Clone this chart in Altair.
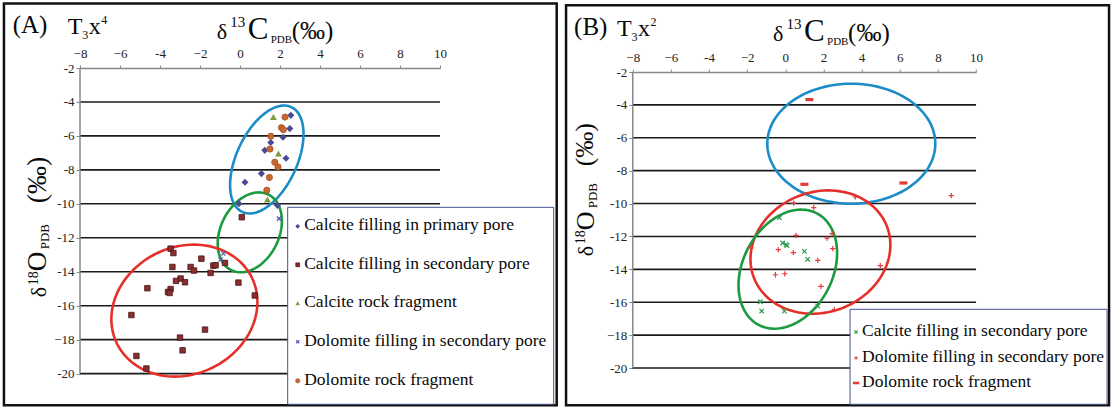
import altair as alt
import numpy as np
import pandas as pd

# ---------------- Panel A (T3x4) ----------------
a_prim_x = [2.54, 2.49, 2.15, 1.54, 1.24, 2.30, 1.07, 0.25, -0.05, 1.87]
a_prim_y = [-4.79, -5.57, -6.08, -6.39, -6.85, -7.32, -8.22, -8.73, -9.99, -10.09]
a_sec_x = [-3.47, -3.33, -1.93, -3.38, -2.47, -2.30, -1.33, -1.22, -0.75, -1.47, -2.97, -3.20, -2.75,
           -0.08, -4.63, -3.47, -3.60, -3.52, 0.74, -5.43, -1.75, -3.00, -2.87, -5.18, -4.68, 0.09]
a_sec_y = [-12.64, -12.90, -13.23, -13.72, -13.72, -13.93, -13.64, -13.62, -13.48, -14.07, -14.40, -14.54, -14.62,
           -14.64, -14.97, -15.02, -15.19, -15.25, -15.40, -16.55, -17.41, -17.88, -18.63, -18.96, -19.70, -10.79]
a_rock_x = [1.67, 1.92, 1.37]
a_rock_y = [-4.89, -7.04, -9.75]
a_dolsec_x = [1.95, -0.83, -0.97]
a_dolsec_y = [-10.87, -12.93, -13.28]
a_dolrock_x = [2.25, 2.07, 2.17, 1.54, 1.50, 1.74, 1.90, 1.47, 1.34]
a_dolrock_y = [-4.89, -5.51, -5.63, -6.02, -6.77, -7.55, -7.83, -8.45, -9.20]
# ellipses: centre x, centre y (data), semi-axes (px), tilt (deg), colour
a_ell_cx = [1.34, 0.49, -2.78]
a_ell_cy = [-7.39, -11.68, -16.29]
a_ell_a = [57.9, 42.1, 75.1]
a_ell_b = [30.2, 29.2, 63.6]
a_ell_ang = [65, 64, 26]
a_ell_col = ["#1c8cc8", "#1c9a40", "#e5302a"]
a_legend = ["Calcite filling in primary pore", "Calcite filling in secondary pore",
            "Calcite rock fragment", "Dolomite filling in secondary pore", " Dolomite rock fragment"]

# ---------------- Panel B (T3x2) ----------------
b_cal_x = [-0.31, -0.14, 0.04, 0.09, 1.00, 1.17, -1.31, -1.24, -0.05, 1.70]
b_cal_y = [-10.86, -12.40, -12.50, -12.56, -12.91, -13.39, -15.97, -16.54, -16.54, -16.23]
b_dol_x = [0.44, 1.49, 3.67, 0.56, 2.45, 2.19, -0.37, 2.49, -1.80, 0.42, 1.70, 4.98, -0.52, -0.03, 1.87, 2.57, 8.70]
b_dol_y = [-9.97, -10.25, -9.60, -11.93, -11.83, -12.10, -12.80, -12.74, -12.70, -12.99, -13.45, -13.78,
           -14.33, -14.27, -15.04, -16.45, -9.52]
b_rock_x = [1.26, 1.00, 6.19]
b_rock_y = [-3.68, -8.83, -8.75]
b_ell_cx = [3.46, 1.84, 0.13]
b_ell_cy = [-6.36, -12.95, -13.99]
b_ell_a = [84, 71.3, 62.9]
b_ell_b = [60, 60.1, 44.9]
b_ell_ang = [0, 21, 62.5]
b_ell_col = ["#1c8cc8", "#e5302a", "#1c9a40"]
b_legend = ["Calcite filling in secondary pore", "Dolomite filling in secondary pore", "Dolomite rock fragment"]

x_ticks = [-8, -6, -4, -2, 0, 2, 4, 6, 8, 10]
y_ticks = [-2, -4, -6, -8, -10, -12, -14, -16, -18, -20]
grid_vals = [-4, -6, -8, -10, -12, -14, -16, -18, -20]

FONT = "'Liberation Serif', 'Times New Roman', serif"
TXT = "#0a0a0a"
one = pd.DataFrame({"k": [0]})

X_SHAPE = "M-1,-1L1,1M-1,1L1,-1"
PLUS_SHAPE = "M-1,0L1,0M0,-1L0,1"
DASH_SHAPE = "M-1,-0.4L1,-0.4L1,0.4L-1,0.4Z"


def ellipse_df(cx, cy, a, b, ang, col, kx, ky):
    rows = []
    t = np.linspace(0, 2 * np.pi, 121)
    for i in range(len(cx)):
        ph = np.radians(ang[i])
        dx = a[i] * np.cos(t) * np.cos(ph) - b[i] * np.sin(t) * np.sin(ph)
        dy = a[i] * np.cos(t) * np.sin(ph) + b[i] * np.sin(t) * np.cos(ph)
        for j in range(len(t)):
            rows.append({"ex": cx[i] + dx[j] / kx, "ey": cy[i] + dy[j] / ky,
                         "g": i, "o": j, "c": col[i]})
    return pd.DataFrame(rows)


def txt(s, ax, ay, size, o, angle=0, baseline="alphabetic", align="left"):
    kw = dict(text=s, font=FONT, fontSize=size, align=align, baseline=baseline, color=TXT)
    if angle:
        kw["angle"] = angle
    return alt.Chart(one).mark_text(**kw).encode(x=alt.value(ax - o[0]), y=alt.value(ay - o[1]))


def panel(o, W, H, top_ext, border, series, ells, legend_box, legend_items, texts):
    # o = absolute position of the plot-area's top-left corner; the -2 line lies top_ext px below it
    ky = (H - top_ext) / 18
    xs = alt.Scale(domain=[-8, 10], nice=False, zero=False)
    ys = alt.Scale(domain=[-20, -2 + top_ext / ky], nice=False, zero=False)
    xaxis = alt.Axis(orient="top", values=x_ticks, title=None, grid=False, offset=-top_ext,
                     labelExpr="datum.value < 0 ? (datum.value == -4 ? '-' : '\u2212') + abs(datum.value) : '' + datum.value",
                     labelFont=FONT, labelFontSize=13, labelColor="#222", labelPadding=5,
                     tickSize=3, tickColor="#888", domainColor="#888", domainWidth=1.5, labelFlush=False)
    yaxis = alt.Axis(values=y_ticks, title=None, grid=False, domain=False,
                     labelExpr="(datum.value == -18 ? '\u2212' : '-') + abs(datum.value)",
                     labelFont=FONT, labelFontSize=13, labelColor="#222", labelPadding=2,
                     tickSize=4, tickColor="#888", labelFlush=False)
    layers = []
    layers.append(alt.Chart(one).mark_rect(filled=False, color="#111", strokeWidth=2.5).encode(
        x=alt.value(border[0] - o[0]), x2=alt.value(border[1] - o[0]),
        y=alt.value(border[2] - o[1]), y2=alt.value(border[3] - o[1])))
    layers.append(alt.Chart(pd.DataFrame({"g": grid_vals})).mark_rule(color="#1a1a1a", strokeWidth=1.6).encode(
        y=alt.Y("g:Q", scale=ys, axis=yaxis), x=alt.value(0), x2=alt.value(W)))
    layers.append(alt.Chart(pd.DataFrame({"lo": [-20], "hi": [-2]})).mark_rule(color="#888", strokeWidth=1.5).encode(
        y=alt.Y("lo:Q", scale=ys, axis=yaxis), y2="hi:Q", x=alt.value(0)))
    layers.append(alt.Chart(ells).mark_line(strokeWidth=2.6).encode(
        x=alt.X("ex:Q", scale=xs, axis=xaxis), y=alt.Y("ey:Q", scale=ys, axis=yaxis),
        detail="g:N", order="o:Q", color=alt.Color("c:N", scale=None)))
    for (sx, sy, mk) in series:
        df = pd.DataFrame({"x": sx, "y": sy})
        layers.append(alt.Chart(df).mark_point(**mk).encode(
            x=alt.X("x:Q", scale=xs, axis=xaxis), y=alt.Y("y:Q", scale=ys, axis=yaxis)))
    layers.append(alt.Chart(one).mark_rect(fill="white", stroke="#44508a", strokeWidth=1).encode(
        x=alt.value(legend_box[0] - o[0]), x2=alt.value(legend_box[1] - o[0]),
        y=alt.value(legend_box[2] - o[1]), y2=alt.value(legend_box[3] - o[1])))
    for (lab, mx, tx, yy, mk) in legend_items:
        layers.append(alt.Chart(one).mark_point(**mk).encode(x=alt.value(mx - o[0]), y=alt.value(yy + 1 - o[1])))
        layers.append(txt(lab, tx, yy, 17.5, o, baseline="middle"))
    layers.extend(texts)
    return alt.layer(*layers).properties(width=W, height=H)


# ---------- marker styles ----------
m_dia = dict(shape="diamond", filled=True, size=50, color="#4a4a92", opacity=1)
m_sq = dict(shape="square", filled=True, size=30, fill="#8a2e32", stroke="#4a1414", strokeWidth=0.8, opacity=1)
m_tri = dict(shape="triangle-up", filled=True, size=48, color="#7f9a3f", opacity=1)
m_xa = dict(shape=X_SHAPE, filled=False, size=18, color="#5656b0", strokeWidth=1.2, opacity=1)
m_circ = dict(shape="circle", filled=True, size=40, fill="#c8682e", stroke="#9a4a1e", strokeWidth=0.6, opacity=1)
m_xb = dict(shape=X_SHAPE, filled=False, size=20, color="#2a9a48", strokeWidth=1.2, opacity=1)
m_plus = dict(shape=PLUS_SHAPE, filled=False, size=28, color="#e83a3a", strokeWidth=1.2, opacity=1)
m_dash = dict(shape=DASH_SHAPE, filled=True, size=64, color="#e53935", opacity=1)


def small(m, s):
    d = dict(m)
    d["size"] = s
    return d


# ---------- Panel A ----------
OA = (79.3, 67.7)
WA, HA = 360, 305.6
kxA, kyA = WA / 18, HA / 18
ellA = ellipse_df(a_ell_cx, a_ell_cy, a_ell_a, a_ell_b, a_ell_ang, a_ell_col, kxA, kyA)
seriesA = [(a_sec_x, a_sec_y, m_sq), (a_prim_x, a_prim_y, m_dia), (a_dolrock_x, a_dolrock_y, m_circ),
           (a_rock_x, a_rock_y, m_tri), (a_dolsec_x, a_dolsec_y, m_xa)]
legA = [
    (a_legend[0], 297, 303.5, 225, small(m_dia, 22)),
    (a_legend[1], 297, 303.5, 263.5, small(m_sq, 14)),
    (a_legend[2], 297, 303.5, 302, small(m_tri, 20)),
    (a_legend[3], 297, 303.5, 340.5, small(m_xa, 10)),
    (a_legend[4], 297, 303.5, 379.5, small(m_circ, 18)),
]
textsA = [
    txt("(A)", 12, 33, 25, OA),
    txt("T", 67, 34, 24, OA), txt("3", 81.5, 38.5, 12, OA), txt("x", 88, 34, 24, OA), txt("4", 100.5, 24, 12, OA),
    txt("\u03b4", 216, 39, 22, OA), txt("13", 229.5, 27, 15, OA), txt("C", 247, 39, 31, OA),
    txt("PDB", 270, 43, 11, OA), txt("(\u2030)", 291, 39, 25, OA),
    txt("\u03b4", 45, 297, 22, OA, angle=270), txt("18", 37, 285, 14, OA, angle=270),
    txt("O", 45.5, 271, 27, OA, angle=270), txt("PDB", 48.5, 249, 13, OA, angle=270),
    txt("(\u2030)", 45.5, 203, 28, OA, angle=270),
]
panelA = panel(OA, WA, HA, 0, (3.25, 556, 3.25, 405), seriesA, ellA, (287, 553, 207, 404), legA, textsA)

# ---------- Panel B ----------
OB = (631.7, 67.7)
EXT_B = 4.0
WB, HB = 343.3, 296 + EXT_B
kxB, kyB = WB / 18, (HB - EXT_B) / 18
ellB = ellipse_df(b_ell_cx, b_ell_cy, b_ell_a, b_ell_b, b_ell_ang, b_ell_col, kxB, kyB)
seriesB = [(b_cal_x, b_cal_y, m_xb), (b_dol_x, b_dol_y, m_plus), (b_rock_x, b_rock_y, m_dash)]
legB = [
    (b_legend[0], 855, 861, 330.7, small(m_xb, 10)),
    (b_legend[1], 855, 861, 356.7, small(m_plus, 14)),
    (b_legend[2], 855, 861, 381.7, small(m_dash, 40)),
]
textsB = [
    txt("(B)", 573, 35, 25, OB),
    txt("T", 616, 36, 24, OB), txt("3", 630.5, 40.5, 12, OB), txt("x", 637, 36, 24, OB), txt("2", 649.5, 26, 12, OB),
    txt("\u03b4", 772, 41, 22, OB), txt("13", 785.5, 29, 15, OB), txt("C", 803, 41, 31, OB),
    txt("PDB", 826, 45, 11, OB), txt("(\u2030)", 847, 41, 25, OB),
    txt("\u03b4", 592, 256, 22, OB, angle=270), txt("18", 584, 244, 14, OB, angle=270),
    txt("O", 592.5, 230, 26, OB, angle=270), txt("PDB", 595.5, 208, 13, OB, angle=270),
    txt("(\u2030)", 592, 166, 26, OB, angle=270),
]
panelB = panel(OB, WB, HB, EXT_B, (565, 1108, 5, 405), seriesB, ellB, (849, 1106, 309, 404), legB, textsB)

chart = alt.hconcat(panelA, panelB, spacing=6.75).properties(
    padding={"left": 2, "top": 2, "right": 0, "bottom": 0}, background="white"
).configure_view(stroke=None)

chart.save("out.html", embed_options={"renderer": "svg", "actions": False})
